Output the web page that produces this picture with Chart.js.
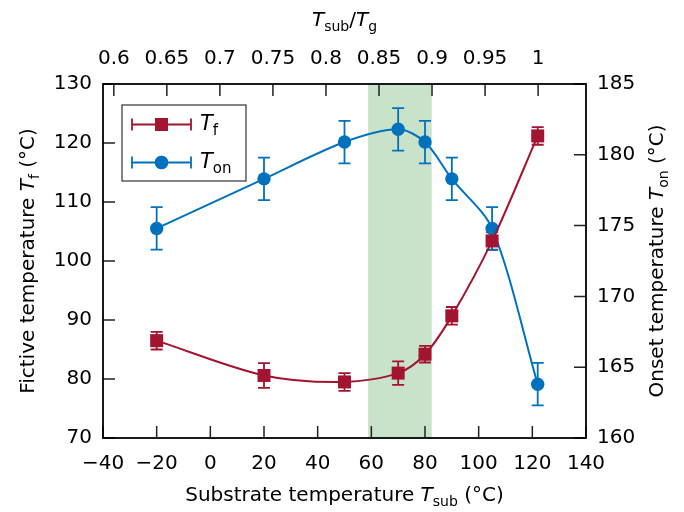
<!DOCTYPE html>
<html>
<head>
<meta charset="utf-8">
<script src="https://cdn.jsdelivr.net/npm/chart.js@4/dist/chart.umd.min.js"></script>
<style>
  html, body { margin: 0; padding: 0; background: #fff; }
  #wrap { width: 684px; height: 512px; }
</style>
</head>
<body>
<div id="wrap"><canvas id="chart" width="684" height="512"></canvas></div>
<script>
// ── Data ──────────────────────────────────────────────
const T_SUB = [-20, 20, 50, 70, 80, 90, 105, 122];
const T_F = [86.5, 80.6, 79.5, 81.0, 84.2, 90.7, 103.4, 121.2];
const T_F_ERR = [1.5, 2.1, 1.5, 2.0, 1.4, 1.5, 1.5, 1.5];
const T_ON = [174.8, 178.3, 180.9, 181.8, 180.9, 178.3, 174.8, 163.8];
const T_ON_ERR = [1.5, 1.5, 1.5, 1.5, 1.5, 1.5, 1.5, 1.5];
const RATIO_TICKS = [0.6, 0.65, 0.7, 0.75, 0.8, 0.85, 0.9, 0.95, 1];
const T_G = 395.3;          // K, glass transition used for top axis
const BAND = [58.8, 82.5];  // shaded Tsub range

const RED = '#a2142f';
const BLUE = '#0072bd';
const FONT = 'DejaVu Sans';
const TICK_SIZE = 20;
const TITLE_SIZE = 20;

// ── Helpers ───────────────────────────────────────────
// parts: [text, kind] where kind '' normal, 'i' italic, 's' subscript
function fontFor(kind, size) {
    if (kind === 'i') return 'italic ' + size + 'px "' + FONT + '"';
    if (kind === 's') return Math.round(size * 0.72) + 'px "' + FONT + '"';
    return size + 'px "' + FONT + '"';
}
function richWidth(ctx, parts, size) {
    let w = 0;
    parts.forEach(function (p) {
        ctx.font = fontFor(p[1], size);
        w += ctx.measureText(p[0]).width;
    });
    return w;
}
function drawRich(ctx, parts, x, y, size, angle, align) {
    ctx.save();
    ctx.translate(x, y);
    ctx.rotate(angle || 0);
    ctx.fillStyle = '#000';
    ctx.textBaseline = 'middle';
    ctx.textAlign = 'left';
    let cx = align === 'left' ? 0 : -richWidth(ctx, parts, size) / 2;
    parts.forEach(function (p) {
        ctx.font = fontFor(p[1], size);
        ctx.fillText(p[0], cx, p[1] === 's' ? size * 0.3 : 0);
        cx += ctx.measureText(p[0]).width;
    });
    ctx.restore();
}

function errorBar(ctx, x, yTop, yBot, color) {
    ctx.strokeStyle = color;
    ctx.lineWidth = 1.8;
    ctx.beginPath();
    ctx.moveTo(x, yTop); ctx.lineTo(x, yBot);
    ctx.moveTo(x - 6, yTop); ctx.lineTo(x + 6, yTop);
    ctx.moveTo(x - 6, yBot); ctx.lineTo(x + 6, yBot);
    ctx.stroke();
}

// ── Plugins ───────────────────────────────────────────
const bandPlugin = {
    id: 'band',
    beforeDatasetsDraw: function (chart) {
        const ctx = chart.ctx, a = chart.chartArea, xs = chart.scales.x;
        const x0 = xs.getPixelForValue(BAND[0]), x1 = xs.getPixelForValue(BAND[1]);
        ctx.save();
        ctx.fillStyle = '#c9e3ca';
        ctx.fillRect(x0, a.top, x1 - x0, a.bottom - a.top);

        // error bars under the markers
        const errs = [T_F_ERR, T_ON_ERR];
        chart.data.datasets.forEach(function (ds, i) {
            const meta = chart.getDatasetMeta(i);
            const ys = chart.scales[meta.yAxisID];
            meta.data.forEach(function (pt, j) {
                const v = ds.data[j].y;
                errorBar(ctx, pt.x, ys.getPixelForValue(v + errs[i][j]),
                    ys.getPixelForValue(v - errs[i][j]), ds.borderColor);
            });
        });
        ctx.restore();
    }
};

const framePlugin = {
    id: 'frame',
    afterDraw: function (chart) {
        const ctx = chart.ctx, a = chart.chartArea, s = chart.scales;
        ctx.save();
        // inward ticks
        ctx.strokeStyle = '#222';
        ctx.lineWidth = 1.5;
        ctx.beginPath();
        s.x.ticks.forEach(function (t) {
            const p = s.x.getPixelForValue(t.value);
            ctx.moveTo(p, a.bottom); ctx.lineTo(p, a.bottom - 12);
        });
        s.x2.ticks.forEach(function (t) {
            const p = s.x2.getPixelForValue(t.value);
            ctx.moveTo(p, a.top); ctx.lineTo(p, a.top + 12);
        });
        s.y.ticks.forEach(function (t) {
            const p = s.y.getPixelForValue(t.value);
            ctx.moveTo(a.left, p); ctx.lineTo(a.left + 12, p);
        });
        s.y2.ticks.forEach(function (t) {
            const p = s.y2.getPixelForValue(t.value);
            ctx.moveTo(a.right, p); ctx.lineTo(a.right - 12, p);
        });
        ctx.stroke();

        ctx.strokeStyle = '#000';
        ctx.lineWidth = 1.8;
        ctx.strokeRect(a.left, a.top, a.right - a.left, a.bottom - a.top);

        // axis titles
        const cxm = (a.left + a.right) / 2, cym = (a.top + a.bottom) / 2;
        drawRich(ctx, [['Substrate temperature ', ''], ['T', 'i'], ['sub', 's'], [' (°C)', '']],
            cxm, 496, TITLE_SIZE);
        drawRich(ctx, [['T', 'i'], ['sub', 's'], ['/', ''], ['T', 'i'], ['g', 's']],
            cxm, 21, TITLE_SIZE);
        drawRich(ctx, [['Fictive temperature ', ''], ['T', 'i'], ['f', 's'], [' (°C)', '']],
            29, cym, TITLE_SIZE, -Math.PI / 2);
        drawRich(ctx, [['Onset temperature ', ''], ['T', 'i'], ['on', 's'], [' (°C)', '']],
            658, cym, TITLE_SIZE, -Math.PI / 2);

        // legend
        ctx.fillStyle = '#fff';
        ctx.fillRect(122, 105, 124, 76);
        ctx.strokeStyle = '#333';
        ctx.lineWidth = 1.2;
        ctx.strokeRect(122, 105, 124, 76);
        const rows = [
            { y: 124.5, color: RED, style: 'rect', r: 9.2, label: 'f' },
            { y: 162.5, color: BLUE, style: 'circle', r: 6.7, label: 'on' }
        ];
        rows.forEach(function (row) {
            ctx.strokeStyle = row.color;
            ctx.lineWidth = 1.8;
            ctx.beginPath();
            ctx.moveTo(132, row.y); ctx.lineTo(191, row.y);
            ctx.moveTo(132, row.y - 6); ctx.lineTo(132, row.y + 6);
            ctx.moveTo(191, row.y - 6); ctx.lineTo(191, row.y + 6);
            ctx.stroke();
            ctx.fillStyle = row.color;
            Chart.helpers.drawPoint(ctx, { pointStyle: row.style, radius: row.r, borderWidth: 0 }, 161.5, row.y);
            ctx.fill();
            drawRich(ctx, [['T', 'i'], [row.label, 's']], 200, row.y, 21, 0, 'left');
        });
        ctx.restore();
    }
};

// ── Chart ─────────────────────────────────────────────
function pts(ys) { return T_SUB.map(function (x, i) { return { x: x, y: ys[i] }; }); }
const tickFont = { family: FONT, size: TICK_SIZE };
const noGrid = { display: false, drawTicks: false };

new Chart(document.getElementById('chart'), {
    type: 'line',
    data: {
        datasets: [
            {
                label: 'Tf', data: pts(T_F), yAxisID: 'y', xAxisID: 'x',
                borderColor: RED, backgroundColor: RED, borderWidth: 2,
                pointStyle: 'rect', pointRadius: 9.2, pointBorderWidth: 0,
                tension: 0.3, fill: false
            },
            {
                label: 'Ton', data: pts(T_ON), yAxisID: 'y2', xAxisID: 'x',
                borderColor: BLUE, backgroundColor: BLUE, borderWidth: 2,
                pointStyle: 'circle', pointRadius: 6.7, pointBorderWidth: 0,
                tension: 0.3, fill: false
            }
        ]
    },
    options: {
        responsive: false,
        animation: false,
        layout: { padding: 0 },
        plugins: { legend: { display: false }, tooltip: { enabled: false } },
        scales: {
            x: {
                type: 'linear', position: 'bottom', min: -40, max: 140,
                ticks: {
                    stepSize: 20, font: tickFont, color: '#000', padding: 14, maxRotation: 0,
                    callback: function (v) { return String(v).replace('-', '\u2212'); }
                },
                grid: noGrid, border: { display: false },
                afterFit: function (s) { s.height = 74; }
            },
            x2: {
                type: 'linear', position: 'top',
                min: (273.15 - 40) / T_G, max: (273.15 + 140) / T_G,
                afterBuildTicks: function (s) { s.ticks = RATIO_TICKS.map(function (v) { return { value: v }; }); },
                ticks: {
                    font: tickFont, color: '#000', padding: 13, maxRotation: 0, autoSkip: false,
                    callback: function (v) { return String(+v.toFixed(2)); }
                },
                grid: noGrid, border: { display: false },
                afterFit: function (s) { s.height = 84; }
            },
            y: {
                position: 'left', min: 70, max: 130,
                ticks: { stepSize: 10, font: tickFont, color: '#000', padding: 11 },
                grid: noGrid, border: { display: false },
                afterFit: function (s) { s.width = 103; }
            },
            y2: {
                position: 'right', min: 160, max: 185,
                ticks: { stepSize: 5, font: tickFont, color: '#000', padding: 11 },
                grid: noGrid, border: { display: false },
                afterFit: function (s) { s.width = 98; }
            }
        }
    },
    plugins: [bandPlugin, framePlugin]
});
</script>
</body>
</html>
